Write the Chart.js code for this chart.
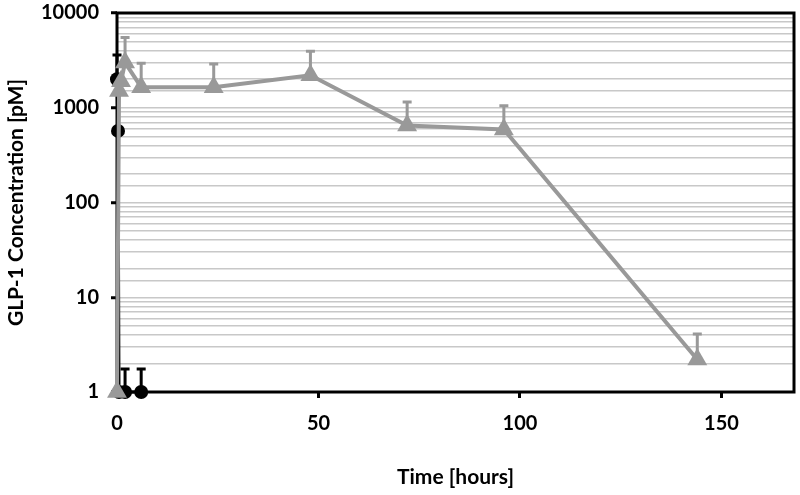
<!DOCTYPE html>
<html>
<head>
<meta charset="utf-8">
<script src="https://cdn.jsdelivr.net/npm/chart.js@4/dist/chart.umd.min.js"></script>
<style>
  html, body { margin: 0; padding: 0; background: #fff; }
  #box { width: 800px; height: 495px; }
</style>
</head>
<body>
<div id="box"><canvas id="chart"></canvas></div>
<script>
// gray triangles series
const grayTimes = [0, 0.5, 1, 2, 6, 24, 48, 72, 96, 144];
const grayValues = [1, 1500, 1900, 3000, 1650, 1650, 2200, 650, 590, 2.2];
const grayErrors = [0, 0, 0, 2500, 1300, 1250, 1750, 500, 460, 1.9];

// black circles series
const blackTimes = [0, 0.25, 0.5, 2, 6];
const blackValues = [2000, 570, 1, 1, 1];
const blackErrors = [1600, 0, 0, 0.75, 0.75];

const yTicks = [1, 10, 100, 1000, 10000];
const xTicks = [0, 50, 100, 150];

const GRAY = "#999999";
const FONT = "Lato";

const toPoints = (xs, ys) => xs.map((x, i) => ({ x: x, y: ys[i] }));

// upper error bars with caps, drawn under the markers
const errorBars = {
  id: "errorBars",
  beforeDatasetsDraw(chart) {
    const ctx = chart.ctx;
    const xs = chart.scales.x;
    const ys = chart.scales.y;
    chart.data.datasets.forEach((ds) => {
      ds.data.forEach((p, i) => {
        const e = ds.errUp[i];
        if (!e) return;
        const px = xs.getPixelForValue(p.x);
        const y0 = ys.getPixelForValue(p.y);
        const y1 = ys.getPixelForValue(p.y + e);
        ctx.save();
        ctx.strokeStyle = ds.borderColor;
        ctx.lineWidth = 3;
        ctx.beginPath();
        ctx.moveTo(px, y0);
        ctx.lineTo(px, y1);
        ctx.moveTo(px - 4.5, y1);
        ctx.lineTo(px + 4.5, y1);
        ctx.stroke();
        ctx.restore();
      });
    });
  },
};

// black frame round the plot area
const frame = {
  id: "frame",
  beforeDatasetsDraw(chart) {
    const a = chart.chartArea;
    const ctx = chart.ctx;
    ctx.save();
    ctx.strokeStyle = "#000";
    ctx.lineWidth = 3;
    ctx.strokeRect(a.left, a.top, a.right - a.left, a.bottom - a.top);
    ctx.restore();
  },
};

const isDecade = (v) => yTicks.includes(v);

new Chart(document.getElementById("chart"), {
  type: "scatter",
  plugins: [errorBars, frame],
  data: {
    datasets: [
      {
        data: toPoints(grayTimes, grayValues),
        errUp: grayErrors,
        showLine: true,
        borderColor: GRAY,
        backgroundColor: GRAY,
        borderWidth: 4,
        pointStyle: "triangle",
        pointRadius: 11.5,
        pointBorderWidth: 0,
        clip: false,
      },
      {
        data: toPoints(blackTimes, blackValues),
        errUp: blackErrors,
        showLine: true,
        borderColor: "#000",
        backgroundColor: "#000",
        borderWidth: 3,
        pointStyle: "circle",
        pointRadius: 7,
        pointBorderWidth: 0,
        clip: false,
      },
    ],
  },
  options: {
    responsive: true,
    maintainAspectRatio: false,
    animation: false,
    layout: { autoPadding: false, padding: { top: 13, right: 6, left: 0, bottom: 0 } },
    plugins: { legend: { display: false }, tooltip: { enabled: false } },
    scales: {
      x: {
        type: "linear",
        min: 0,
        max: 168,
        afterBuildTicks: (s) => {
          s.ticks = xTicks.map((v) => ({ value: v }));
        },
        afterFit: (s) => {
          s.height = 103;
          s.paddingLeft = 0;
          s.paddingRight = 0;
        },
        border: { display: false },
        grid: {
          drawOnChartArea: false,
          drawTicks: true,
          tickLength: 6,
          tickWidth: 3,
          tickColor: "#000",
        },
        ticks: {
          color: "#000",
          padding: 14,
          maxRotation: 0,
          font: { family: FONT, size: 20, weight: "bold" },
        },
        title: {
          display: true,
          text: "Time [hours]",
          color: "#000",
          padding: { top: 0, bottom: 5 },
          font: { family: FONT, size: 21, weight: "bold" },
        },
      },
      y: {
        type: "logarithmic",
        min: 1,
        max: 10000,
        afterFit: (s) => {
          s.width = 117;
          s.paddingTop = 0;
          s.paddingBottom = 0;
        },
        border: { display: false },
        grid: {
          color: "#c8c8c8",
          lineWidth: 1.5,
          drawTicks: true,
          tickLength: 6,
          tickWidth: 3,
          tickColor: (c) => (isDecade(c.tick.value) ? "#000" : "rgba(0,0,0,0)"),
        },
        ticks: {
          autoSkip: false,
          color: "#000",
          padding: 12,
          font: { family: FONT, size: 20, weight: "bold" },
          callback: (v) => (isDecade(v) ? String(v) : ""),
        },
        title: {
          display: true,
          text: "GLP-1 Concentration [pM]",
          color: "#000",
          padding: { top: 4, bottom: 0 },
          font: { family: FONT, size: 21, weight: "bold" },
        },
      },
    },
  },
});
</script>
</body>
</html>
